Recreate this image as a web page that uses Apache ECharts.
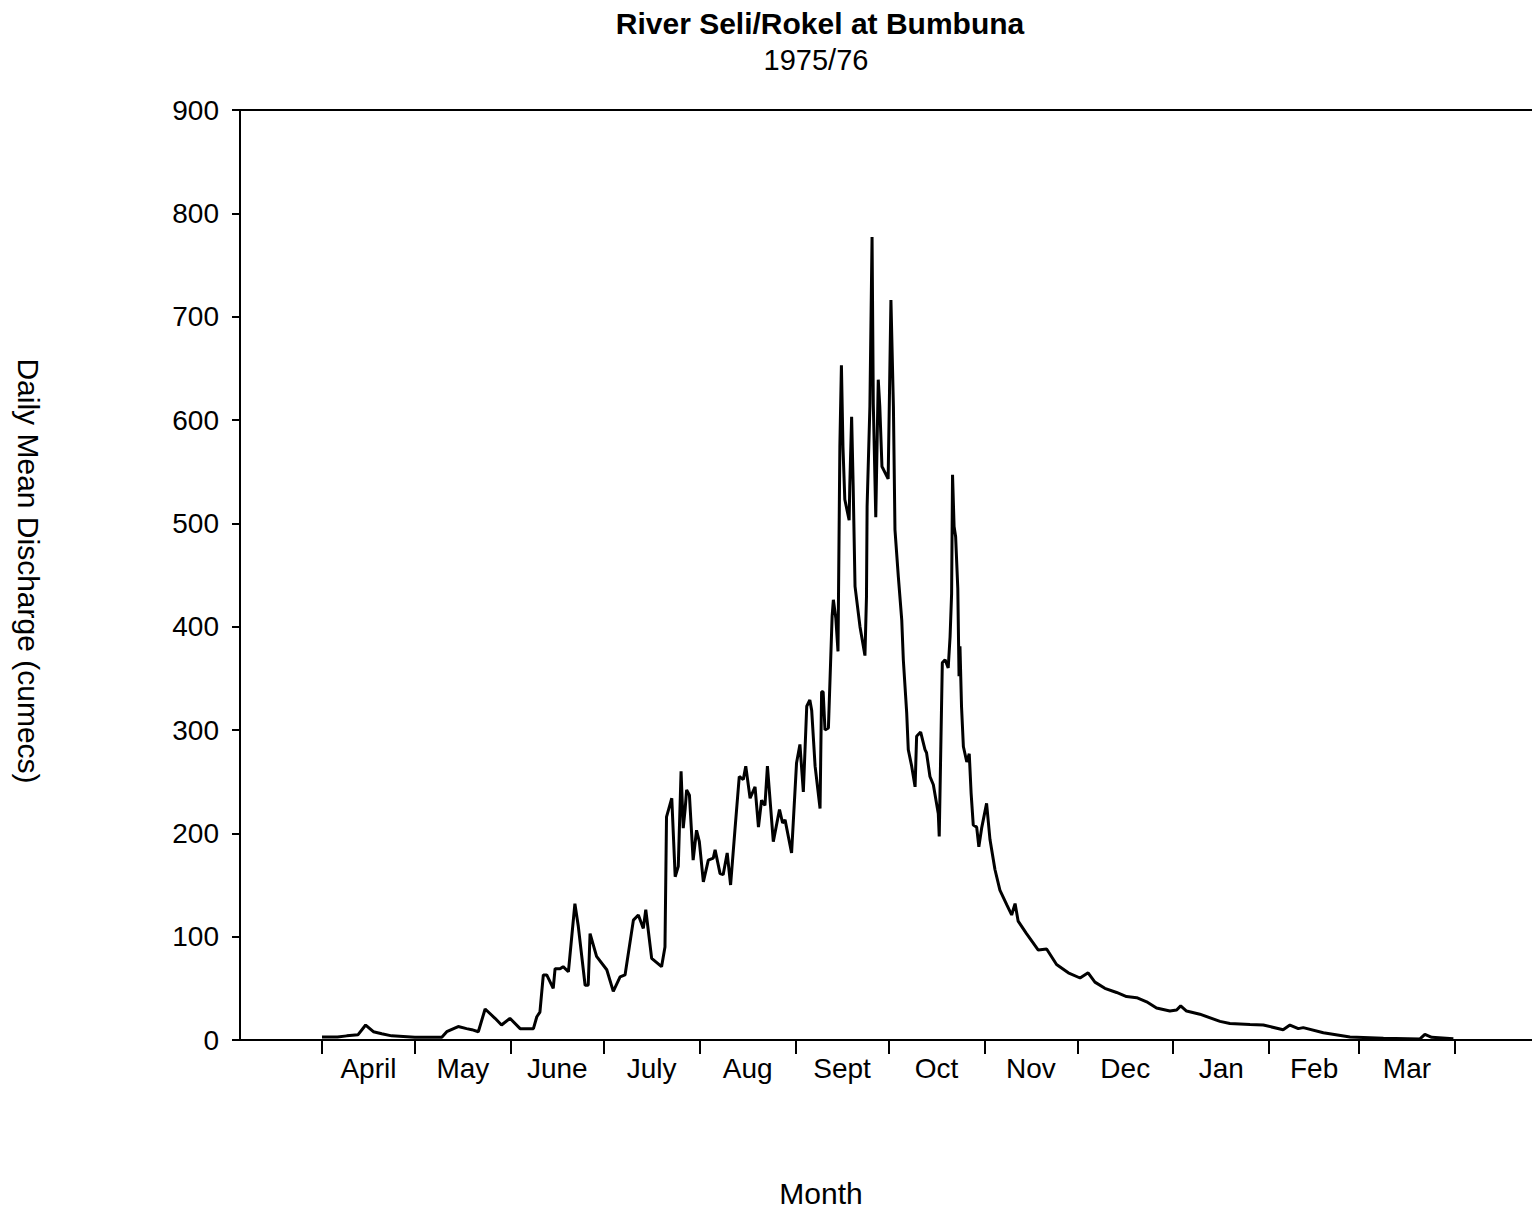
<!DOCTYPE html>
<html>
<head>
<meta charset="utf-8">
<script src="https://cdn.jsdelivr.net/npm/echarts@6/dist/echarts.min.js"></script>
<style>
html,body{margin:0;padding:0;background:#fff;}
#chart{width:1532px;height:1213px;}
</style>
</head>
<body>
<div id="chart"></div>
<script>
// Day number counted from 1 April 1975 (day 0) to 31 March 1976 (day 366)
const days = [
  0, 5, 8, 11.6, 14.1, 16.6, 19.3, 22.5, 30, 38.7, 40.3, 44, 46.7, 48.4, 50.5, 52.7, 55.9, 58, 60.7, 64, 68.3,
  69.4, 70.4, 71.5, 72.6, 74.7, 75.3, 76.9, 77.9, 79.6, 81.7, 82.8, 85, 86, 86.6, 88.7, 92, 94.1, 96.3, 97.9,
  100.6, 102.2, 103.8, 104.6, 106.5, 109.7, 110.8, 111.3, 113, 114.1, 115.1, 116, 116.7, 117.3, 117.8, 118.7,
  119.9, 121, 121.9, 123.2, 124.8, 126.4, 127, 128.6, 129.6, 130.9, 132, 133.4, 134.8, 136.1, 136.9, 138.3,
  139.9, 141, 142, 143.1, 143.9, 145.8, 147.8, 148.8, 149.6, 151.7, 153.3, 154.4, 155.5, 156.6, 157.6, 158.2,
  159.3, 160.9, 161.4, 161.9, 162.5, 163.6, 164.8, 165.2, 166, 166.7, 167.3, 167.8, 168.3, 168.9, 170.3, 170.5,
  171.1, 171.6, 172.2, 173.8, 175.4, 175.9, 176.1, 177, 177.7, 178.1, 178.9, 179.7, 180.2, 180.9, 182.9, 183.8,
  184.6, 185.1, 186.2, 187.3, 187.8, 188.9, 189.4, 190.5, 191.6, 192.1, 193.4, 194.8, 195.3, 196.4, 197.5,
  199.1, 199.4, 200.4, 201.3, 202.3, 202.9, 203.4, 203.7, 204.2, 204.7, 205.4, 205.8, 206.1, 206.6, 207.2,
  208.3, 209.1, 209.7, 210.4, 211.5, 212.2, 213.1, 214.7, 215.8, 217.4, 219, 221.2, 222.8, 223.9, 224.9,
  227.6, 231.4, 234.1, 237.3, 241.1, 244.9, 247.5, 249.7, 252.9, 256.7, 259.9, 263.2, 266.4, 269.6, 273.9,
  276.1, 277.4, 279.3, 283.6, 290.1, 293.3, 299.8, 304.1, 310.5, 312.7, 315.4, 317, 323.5, 332.1, 342.9,
  354.7, 356.3, 358.5, 365.5
];
// Daily mean discharge (cumecs) read at those days
const discharge = [
  3, 3, 4, 5, 14.5, 8, 6, 4, 2.6, 2.6, 8, 13, 11, 10, 8, 30, 21, 14.5, 21, 11, 11,
  22.5, 27, 63, 63, 50, 69, 69, 71, 66, 132, 110, 53, 53, 103, 81, 68, 47, 61, 63,
  116, 121, 108, 126, 79, 71, 90, 216, 234, 158, 168, 260, 205, 223, 242, 237,
  174, 203, 192, 153, 174, 176, 184, 161, 160, 181, 150, 203, 255, 252, 265, 234,
  245, 206, 232, 227, 265, 192, 223, 210, 213, 181, 268, 286, 240, 323, 329, 319,
  265, 224, 337, 337, 300, 302, 410, 426, 408, 376, 574, 653, 574, 523, 503, 536,
  603, 536, 439, 400, 372, 429, 516, 613, 777, 616, 506, 639, 613, 555, 543, 716,
  613, 494, 448, 406, 368, 316, 281, 265, 245, 294, 298, 281, 278, 255, 247,
  219, 197, 365, 368, 360, 390, 432, 547, 497, 487, 437, 352, 381, 323, 284,
  269, 277, 239, 208, 206, 187, 205, 229, 194, 165, 145, 131, 121, 132, 115,
  103, 87, 88, 73, 65, 60, 65, 56, 50, 46, 42, 41, 37, 31, 28,
  29, 33, 28, 25, 18, 16, 15, 14.5, 10, 14.5, 11, 12, 7, 3, 1.6,
  1, 5.5, 2.6, 1.3
];
const monthNames = ['April','May','June','July','Aug','Sept','Oct','Nov','Dec','Jan','Feb','Mar'];
const monthStarts = [0, 30, 61, 91, 122, 153, 183, 214, 244, 275, 306, 335, 366];
const yTicks = [0, 100, 200, 300, 400, 500, 600, 700, 800, 900];

const monthMids = monthNames.map((n, i) => (monthStarts[i] + monthStarts[i + 1]) / 2);
const seriesData = days.map((d, i) => [d, discharge[i]]);

const FONT = '"Liberation Sans", Arial, Helvetica, sans-serif';
const chart = echarts.init(document.getElementById('chart'), null, {renderer: 'svg'});
chart.setOption({
  animation: false,
  backgroundColor: '#fff',
  grid: {left: 240, right: 0, top: 110, bottom: 173, containLabel: false},
  xAxis: [{
    type: 'value',
    min: -26.49,
    max: 390.9,
    splitLine: {show: false},
    axisLine: {show: true, onZero: false, lineStyle: {color: '#000', width: 2}},
    axisTick: {show: true, customValues: monthStarts, length: 14, inside: false,
               lineStyle: {color: '#000', width: 2}},
    axisLabel: {show: true, customValues: monthMids, margin: 14, color: '#000',
                fontFamily: FONT, fontSize: 28,
                formatter: function (v) {
                  const i = monthMids.findIndex(m => Math.abs(m - v) < 0.01);
                  return i >= 0 ? monthNames[i] : '';
                }}
  }, {
    type: 'value',
    position: 'top',
    min: -26.49,
    max: 390.9,
    splitLine: {show: false},
    axisLine: {show: true, onZero: false, lineStyle: {color: '#000', width: 2}},
    axisTick: {show: false},
    axisLabel: {show: false}
  }],
  yAxis: {
    type: 'value',
    min: 0,
    max: 900,
    interval: 100,
    splitLine: {show: false},
    axisLine: {show: true, onZero: false, lineStyle: {color: '#000', width: 2}},
    axisTick: {show: true, length: 8, inside: false, customValues: yTicks,
               lineStyle: {color: '#000', width: 2}},
    axisLabel: {show: true, margin: 21, color: '#000', fontFamily: FONT, fontSize: 28,
                customValues: yTicks}
  },
  series: [{
    type: 'line',
    data: seriesData,
    xAxisIndex: 0,
    showSymbol: false,
    symbol: 'none',
    smooth: false,
    lineStyle: {color: '#000', width: 3},
    z: 3
  }],
  graphic: [
    {type: 'text', x: 820, y: 8, style: {text: 'River Seli/Rokel at Bumbuna',
      fill: '#000', font: 'bold 30px ' + FONT, textAlign: 'center', textVerticalAlign: 'top'}},
    {type: 'text', x: 816, y: 45, style: {text: '1975/76',
      fill: '#000', font: '29px ' + FONT, textAlign: 'center', textVerticalAlign: 'top'}},
    {type: 'text', x: 821, y: 1178, style: {text: 'Month',
      fill: '#000', font: '30px ' + FONT, textAlign: 'center', textVerticalAlign: 'top'}},
    {type: 'text', x: 28, y: 571, rotation: -Math.PI / 2, style: {text: 'Daily Mean Discharge (cumecs)',
      fill: '#000', font: '30px ' + FONT, textAlign: 'center', textVerticalAlign: 'middle'}}
  ]
});
</script>
</body>
</html>
